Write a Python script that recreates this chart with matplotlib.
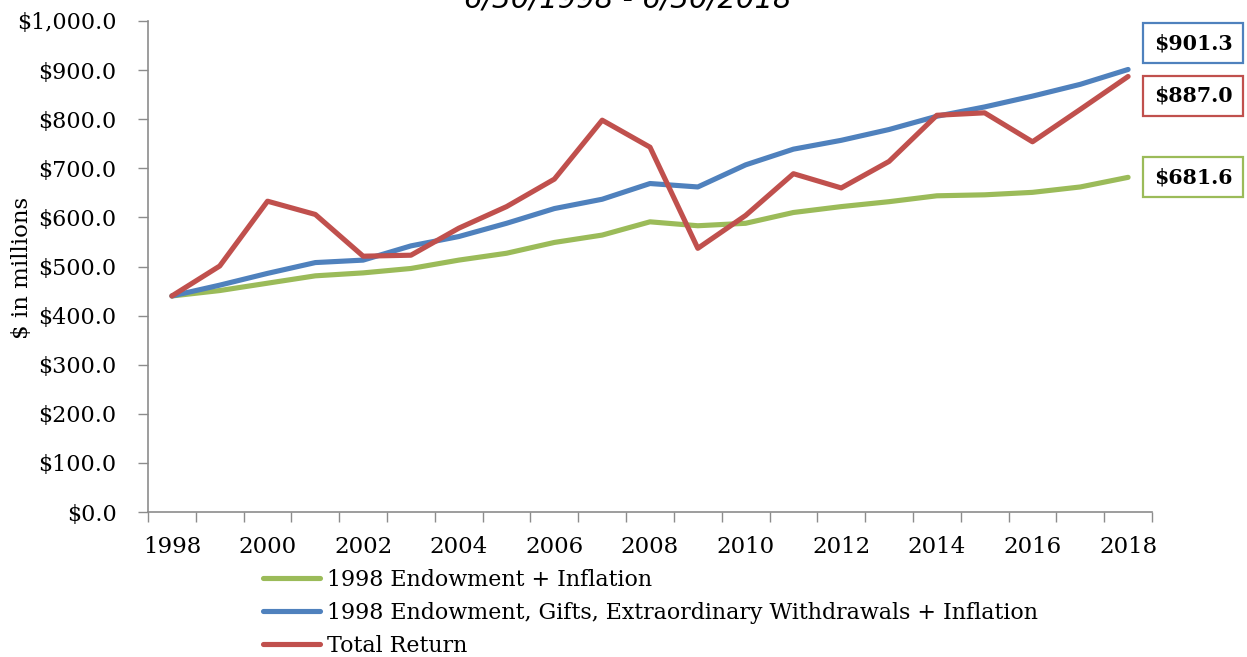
import matplotlib
matplotlib.use("Agg")
import matplotlib.pyplot as plt
from matplotlib.patches import Rectangle
from matplotlib.ticker import FuncFormatter, FixedLocator

years = list(range(1998, 2019))
endow_infl = [440, 451, 466, 481, 487, 496, 513, 527, 549, 564, 591, 583, 588, 610, 622, 632, 644, 646, 651, 662, 681.6]
endow_gifts = [440, 462, 486, 508, 513, 542, 561, 588, 618, 637, 669, 662, 707, 739, 757, 779, 806, 825, 847, 871, 901.3]
total_return = [440, 501, 633, 606, 521, 523, 578, 622, 678, 798, 743, 537, 604, 689, 660, 714, 808, 813, 754, 820, 887.0]

series_names = ["1998 Endowment + Inflation",
                "1998 Endowment, Gifts, Extraordinary Withdrawals + Inflation",
                "Total Return"]
series_colors = ["#9BBB59", "#4F81BD", "#C0504D"]
end_labels = ["$681.6", "$901.3", "$887.0"]
title_text = "6/30/1998 - 6/30/2018"

W, H = 1247, 657
fig = plt.figure(figsize=(W / 100, H / 100), dpi=100)
serif = "DejaVu Serif"

ax = fig.add_axes([148 / W, 1 - 512 / H, (1152 - 148) / W, (512 - 21) / H])
x = list(range(len(years)))
lines = []
for vals, name, col in zip([endow_infl, endow_gifts, total_return], series_names, series_colors):
    ln, = ax.plot(x, vals, color=col, lw=3.7, label=name,
                  solid_capstyle="round", solid_joinstyle="round", clip_on=False)
    lines.append(ln)

ax.set_xlim(-0.5, len(years) - 0.5)
ax.set_ylim(0, 1000)
ax.set_yticks(range(0, 1001, 100))
ax.yaxis.set_major_formatter(FuncFormatter(lambda v, p: "${:,.1f}".format(v)))
ax.xaxis.set_major_locator(FixedLocator([i for i in x if years[i] % 2 == 0]))
ax.set_xticklabels([str(years[i]) for i in x if years[i] % 2 == 0])
ax.xaxis.set_minor_locator(FixedLocator([i - 0.5 for i in range(len(years) + 1)]))
ax.tick_params(axis="x", which="major", length=0, pad=17, labelsize=16.5)
ax.tick_params(axis="x", which="minor", length=7, width=1, color="#8C8C8C", direction="out")
ax.tick_params(axis="y", which="major", length=7.5, width=1, color="#8C8C8C", direction="out",
               labelsize=16, pad=15)
for lab in ax.get_xticklabels() + ax.get_yticklabels():
    lab.set_fontfamily(serif)
for s in ["top", "right"]:
    ax.spines[s].set_visible(False)
for s in ["left", "bottom"]:
    ax.spines[s].set_color("#8C8C8C")
    ax.spines[s].set_linewidth(1.2)

ax.set_ylabel("$ in millions", fontsize=16.5, family=serif)
ax.yaxis.set_label_coords(22 / W, 1 - 268 / H, transform=fig.transFigure)
ax.yaxis.label.set_verticalalignment("center")

# Title (partly cut off at the top, as in the reference)
fig.text(628 / W, 1 - 7 / H, title_text, ha="center", va="baseline",
         fontsize=21, style="italic", family="DejaVu Sans")

# End-value boxes
boxes = [(157, 197), (23, 63), (76, 116)]
for (top, bot), lab, col in zip(boxes, end_labels, series_colors):
    fig.patches.append(Rectangle((1143 / W, 1 - bot / H), 100 / W, (bot - top) / H,
                                 transform=fig.transFigure, fill=True, facecolor="white",
                                 edgecolor=col, lw=1.6))
    fig.text(1193 / W, 1 - (top + bot) / 2 / H, lab, ha="center", va="center",
             fontsize=14.8, fontweight="bold", family=serif)

leg = fig.legend(handles=lines, loc="upper left", bbox_to_anchor=(263 / W, 1 - 569 / H),
                 frameon=False, borderpad=0, borderaxespad=0, handlelength=2.6,
                 handletextpad=0.3, labelspacing=0.5, prop={"family": serif, "size": 15.9})
for h in leg.legend_handles:
    h.set_linewidth(3.7)

fig.savefig("out.png", dpi=100)
